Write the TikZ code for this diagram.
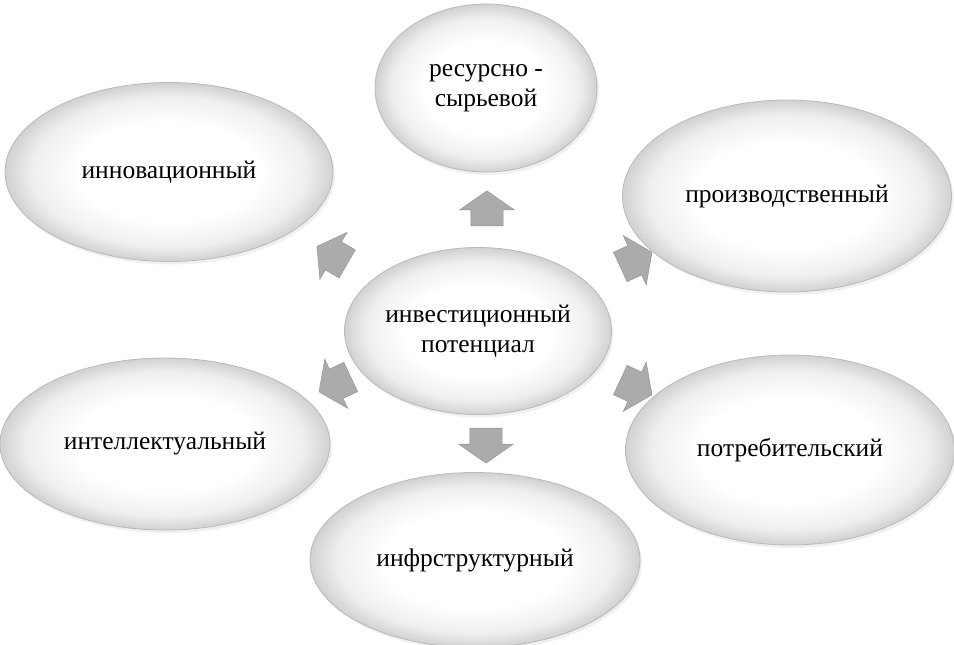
\documentclass[tikz,border=0pt]{standalone}
\usepackage{fontspec}
\setmainfont{Liberation Serif}
\usetikzlibrary{shapes.geometric,shapes.arrows,shadows}
\pgfdeclareradialshading{bubbleshade}{\pgfpoint{0bp}{0bp}}{color(0bp)=(white); color(14bp)=(white); color(21bp)=(gray!13); color(25bp)=(gray!36); color(50bp)=(gray!36)}
\tikzset{
  bubble/.style={ellipse, draw=gray!55, line width=0.8pt, shade, shading=bubbleshade, align=center,
    font=\fontsize{25.5}{30}\selectfont, inner sep=0pt,
    drop shadow={opacity=0.12, shadow xshift=2pt, shadow yshift=-3pt}},
  fatarrow/.style={single arrow, draw=black!45, fill=black!33, minimum height=35pt,
    inner xsep=0pt, inner ysep=16pt, single arrow head extend=11pt, single arrow tip angle=110}
}
\begin{document}
\begin{tikzpicture}[x=1pt,y=-1pt]
\useasboundingbox (0,0) rectangle (954,645);
\node[bubble, minimum width=222, minimum height=168] (res) at (486,88) {ресурсно -\\сырьевой};
\node[bubble, minimum width=328, minimum height=179] (innov) at (169,172) {инновационный};
\node[bubble, minimum width=329, minimum height=192] (proizv) at (787,196) {производственный};
\node[bubble, minimum width=330, minimum height=172] (intel) at (165,444) {интеллектуальный};
\node[bubble, minimum width=329, minimum height=190] (potreb) at (790,450) {потребительский};
\node[bubble, minimum width=330, minimum height=175] (infra) at (475,560) {инфрструктурный};
\node[bubble, minimum width=267, minimum height=167] (inv) at (478,331) {инвестиционный\\потенциал};
\node[fatarrow, rotate=90] (a1) at (487,214) {};
\node[fatarrow, rotate=-90] (a2) at (486,440) {};
\node[fatarrow, rotate=150] (a3) at (337,258) {};
\node[fatarrow, rotate=25] (a4) at (631,262) {};
\node[fatarrow, rotate=205] (a5) at (340,382) {};
\node[fatarrow, rotate=-25] (a6) at (631,385) {};
\end{tikzpicture}
\end{document}
